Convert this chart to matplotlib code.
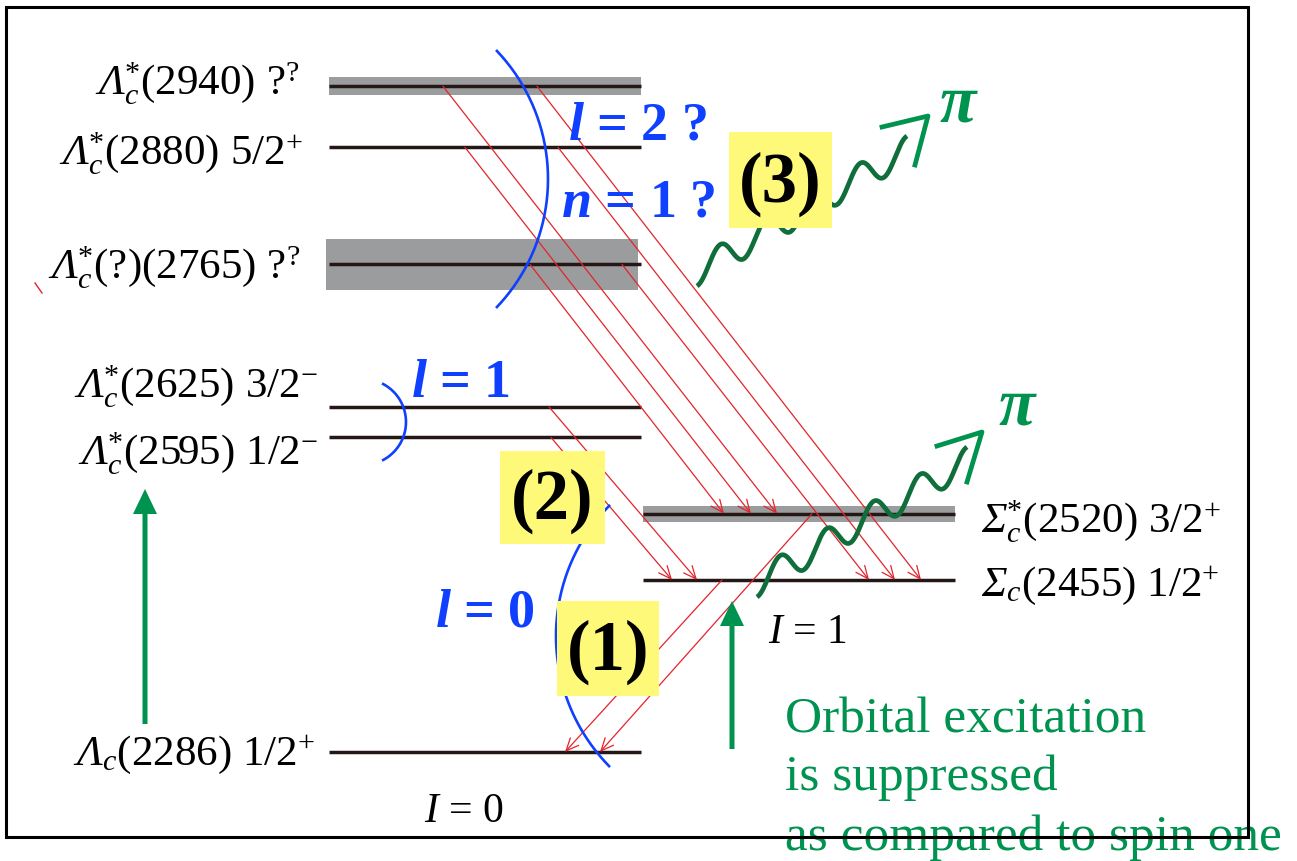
import numpy as np
import matplotlib
matplotlib.use('Agg')
import matplotlib.pyplot as plt
from matplotlib.transforms import Affine2D
from matplotlib.patches import Rectangle, FancyArrow

plt.rcParams['font.family'] = ['Liberation Serif', 'DejaVu Serif']
plt.rcParams['mathtext.fontset'] = 'custom'
plt.rcParams['mathtext.rm'] = 'Liberation Serif'
plt.rcParams['mathtext.it'] = 'Liberation Serif:italic'
plt.rcParams['mathtext.sf'] = 'Liberation Serif:italic'   # italic capital Greek
plt.rcParams['mathtext.bf'] = 'Liberation Serif:bold'
plt.rcParams['mathtext.bfit'] = 'Liberation Serif:bold:italic'

# Lambda_c states (I = 0), masses in MeV
lam_mass = [2286, 2595, 2625, 2765, 2880, 2940]
lam_name = ['(2286)', '(2595)', '(2625)', '(?)(2765)', '(2880)', '(2940)']
lam_jp = ['1/2$^{+}$', '1/2$^{-}$', '3/2$^{-}$', '?$^{?}$', '5/2$^{+}$', '?$^{?}$']
lam_star = [False, True, True, True, True, True]
lam_halfwidth = [0, 0, 0, 25, 0, 9]

# Sigma_c states (I = 1)
sig_mass = [2455, 2520]
sig_name = ['(2455)', '(2520)']
sig_jp = ['1/2$^{+}$', '3/2$^{+}$']
sig_star = [False, True]
sig_halfwidth = [0, 8]

# decays: initial mass -> final mass
dec_from = [2940, 2880, 2765, 2940, 2880, 2765, 2625, 2595, 2520, 2455]
dec_to = [2520, 2520, 2520, 2455, 2455, 2455, 2455, 2455, 2286, 2286]
# horizontal start / end of each decay arrow
dec_x0 = [443, 465, 530, 537, 558, 622, 549, 551, 812, 722]
dec_x1 = [777, 751, 724, 921, 895, 869, 697, 672, 600, 565]

W, H = 1297, 862
PX_PER_MEV = 1.018
Y0_PX = 753  # pixel row of the ground state
y_hi = lam_mass[0] + Y0_PX / PX_PER_MEV
y_lo = lam_mass[0] - (H - Y0_PX) / PX_PER_MEV

LINE = '#231815'
BAND = '#9a9c9e'
RED = '#e3242b'
BLUE = '#1040ff'
GREEN = '#00924f'
DKGREEN = '#0f6e3a'
YELLOW = '#fff97a'

fig = plt.figure(figsize=(W / 100, H / 100), dpi=100)
ax = fig.add_axes([0, 0, 1, 1])
ax.set_xlim(0, W)
ax.set_ylim(y_lo, y_hi)
ax.axis('off')

# pixel coordinates, origin top-left, for the annotations
pix = Affine2D().scale(1 / W, -1 / H).translate(0, 1) + fig.transFigure

LX0, LX1 = 329, 641
SX0, SX1 = 643, 955

for m, w in zip(lam_mass, lam_halfwidth):
    if w:
        ax.fill_between([LX0 - 3, LX1 - 3] if m == 2765 else [LX0, LX1],
                        m - w, m + w, color=BAND, lw=0, zorder=1)
for m, w in zip(sig_mass, sig_halfwidth):
    if w:
        ax.fill_between([SX0, SX1], m - w, m + w, color=BAND, lw=0, zorder=1)
ax.hlines(lam_mass, LX0, LX1, color=LINE, lw=2.5, zorder=2)
ax.hlines(sig_mass, SX0, SX1, color=LINE, lw=2.5, zorder=2)

for m0, m1, x0, x1 in zip(dec_from, dec_to, dec_x0, dec_x1):
    ax.annotate('', xy=(x1, m1), xytext=(x0, m0),
                arrowprops=dict(arrowstyle='->,head_length=0.9,head_width=0.4',
                                color=RED, lw=0.9, shrinkA=0, shrinkB=0),
                zorder=3)

# state labels
lam_label_y = [765, 465, 398, 279, 165, 95]
lam_label_x = [315, 318, 318, 300, 303, 300]
for name, jp, star, x, y in zip(lam_name, lam_jp, lam_star, lam_label_x, lam_label_y):
    sym = r'$\mathsf{\Lambda}^{*}_{c}$' if star else r'$\mathsf{\Lambda}_{c}$'
    ax.text(x, y, sym + name + ' ' + jp, transform=pix, fontsize=31,
            ha='right', va='baseline')
sig_label_y = [596, 533]
for name, jp, star, y in zip(sig_name, sig_jp, sig_star, sig_label_y):
    sym = r'$\mathsf{\Sigma}^{*}_{c}$' if star else r'$\mathsf{\Sigma}_{c}$'
    ax.text(981, y, sym + name + ' ' + jp, transform=pix, fontsize=31,
            ha='left', va='baseline')

ax.text(768, 643, r'$\mathit{I}$ = 1', transform=pix, fontsize=30)
ax.text(424, 822, r'$\mathit{I}$ = 0', transform=pix, fontsize=30)

# orbital / radial excitation arcs
def arc(cx, cy, r, a0, a1):
    a = np.radians(np.linspace(a0, a1, 200))
    ax.plot(cx + r * np.cos(a), cy + r * np.sin(a), color=BLUE, lw=1.9,
            transform=pix, zorder=3)

arc(362, 180, 186, -43.5, 43.5)
arc(363, 423, 43, -62, 62)
arc(742, 637, 186, 135.6, 224.4)

for x, y, s in [(568, 140, r'$\mathbfit{l}$ = 2 ?'), (561, 217, r'$\mathbfit{n}$ = 1 ?'),
                (411, 397, r'$\mathbfit{l}$ = 1'), (435, 627, r'$\mathbfit{l}$ = 0')]:
    ax.text(x, y, s, transform=pix, fontsize=39, fontweight='bold', color=BLUE)

ax.plot([35, 42], [284, 294], color=RED, lw=1.0, transform=pix)

# pion emission
def wiggle(x0, y0, x1, y1, periods=4.5, amp=14):
    t = np.linspace(0, 1, 400)
    x = x0 + (x1 - x0) * t
    y = (y0 - amp) + ((y1 + amp) - (y0 - amp)) * t + amp * np.cos(2 * np.pi * periods * t)
    ax.plot(x, y, color=DKGREEN, lw=3.4, transform=pix, zorder=4,
            solid_capstyle='butt')

wiggle(757, 598, 967, 448)
ax.plot([937, 982, 967], [447, 433, 483], color=GREEN, lw=3.4, transform=pix, zorder=4)
ax.text(1017, 408, 'π', transform=pix, fontsize=48, fontweight='bold',
        fontstyle='italic', color=GREEN, ha='center', va='center')

wiggle(697, 287, 907, 137)
ax.plot([882, 928, 915], [128, 117, 166], color=GREEN, lw=3.4, transform=pix, zorder=4)
ax.text(958, 105, 'π', transform=pix, fontsize=48, fontweight='bold',
        fontstyle='italic', color=GREEN, ha='center', va='center')

# numbered boxes
for x0, y0, x1, y1, s in [(557, 602, 659, 697, '(1)'), (500, 452, 605, 545, '(2)'),
                          (729, 133, 832, 229, '(3)')]:
    ax.add_patch(Rectangle((x0, y0), x1 - x0, y1 - y0, facecolor=YELLOW,
                           edgecolor='none', transform=pix, zorder=5))
    ax.text((x0 + x1) / 2, (y0 + y1) / 2 + 3, s, transform=pix, fontsize=51,
            fontweight='bold', ha='center', va='center', zorder=6)

# green arrows and comment
for x, y0, y1 in [(145, 725, 490), (732, 750, 602)]:
    ax.add_patch(FancyArrow(x, y0, 0, y1 - y0, width=5, head_width=24,
                            head_length=25, length_includes_head=True,
                            color=GREEN, lw=0, transform=pix, zorder=4))
for y, s in [(733, 'Orbital excitation'), (790, 'is suppressed'),
             (850, 'as compared to spin one')]:
    ax.text(785, y, s, transform=pix, fontsize=37, color=GREEN, va='baseline')

ax.add_patch(Rectangle((6, 8), 1242, 830, fill=False, edgecolor='black', lw=2.2,
                       transform=pix, zorder=10))

fig.savefig('out.png', dpi=100)
